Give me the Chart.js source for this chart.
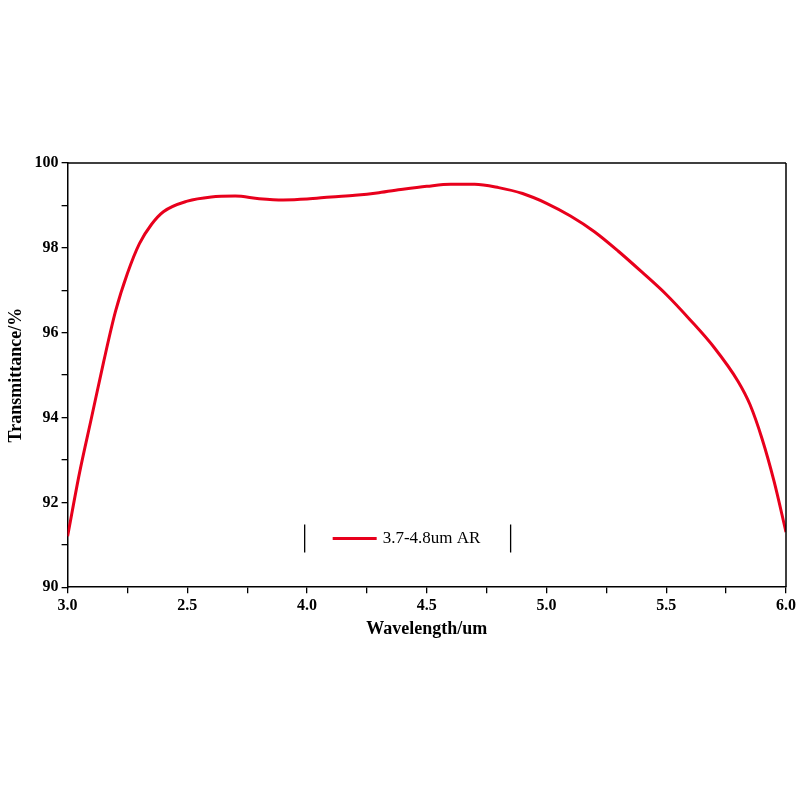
<!DOCTYPE html>
<html>
<head>
<meta charset="utf-8">
<script src="https://cdn.jsdelivr.net/npm/chart.js@4"></script>
<style>
  html, body { margin: 0; background: #fff; }
  #wrap { position: absolute; left: 0; top: 0; width: 800px; height: 800px; }
</style>
</head>
<body>
<div id="wrap"><canvas id="spectrum"></canvas></div>
<script>
const wavelengths = [3.0, 3.05, 3.1, 3.15, 3.2, 3.25, 3.3, 3.35, 3.4, 3.5, 3.6, 3.7, 3.8, 3.9, 4.0, 4.1, 4.2, 4.3, 4.4, 4.5, 4.6, 4.7, 4.8, 4.9, 5.0, 5.1, 5.2, 5.3, 5.4, 5.5, 5.6, 5.7, 5.8, 5.85, 5.9, 5.95, 6.0];
const transmittance = [91.2, 92.7, 94.0, 95.3, 96.5, 97.4, 98.1, 98.55, 98.85, 99.1, 99.2, 99.22, 99.16, 99.13, 99.15, 99.2, 99.24, 99.3, 99.38, 99.45, 99.5, 99.5, 99.42, 99.28, 99.05, 98.75, 98.38, 97.92, 97.42, 96.9, 96.3, 95.65, 94.85, 94.3, 93.5, 92.5, 91.3];
const xTickLabels = ["3.0", "2.5", "4.0", "4.5", "5.0", "5.5", "6.0"];
const seriesLabel = "3.7-4.8um AR";

const font = "'Liberation Serif', 'DejaVu Serif', serif";

// legend drawn inside the plot, with the odd bars on either side
const boxLegend = {
  id: "boxLegend",
  afterDraw(chart) {
    const { ctx, scales: { x, y } } = chart;
    const cy = y.getPixelForValue(91.1);
    const left = x.getPixelForValue(3.99);
    const right = x.getPixelForValue(4.85);
    ctx.save();
    ctx.strokeStyle = "#000";
    ctx.lineWidth = 1.3;
    ctx.beginPath();
    ctx.moveTo(left, cy - 16); ctx.lineTo(left, cy + 12);
    ctx.moveTo(right, cy - 16); ctx.lineTo(right, cy + 12);
    ctx.stroke();
    ctx.strokeStyle = "#e8001c";
    ctx.lineWidth = 3;
    ctx.beginPath();
    ctx.moveTo(left + 28, cy - 2); ctx.lineTo(left + 72, cy - 2);
    ctx.stroke();
    ctx.fillStyle = "#000";
    ctx.font = "17px " + font;
    ctx.textBaseline = "middle";
    ctx.fillText(seriesLabel, left + 78, cy - 2);
    ctx.restore();
  }
};

const frame = {
  id: "frame",
  afterDraw(chart) {
    const { ctx, chartArea: a } = chart;
    ctx.save();
    ctx.strokeStyle = "#000";
    ctx.lineWidth = 1.5;
    ctx.beginPath();
    ctx.moveTo(a.left, a.top); ctx.lineTo(a.right, a.top);
    ctx.moveTo(a.right, a.top); ctx.lineTo(a.right, a.bottom);
    ctx.stroke();
    ctx.restore();
  }
};

new Chart(document.getElementById("spectrum"), {
  type: "line",
  data: {
    datasets: [{
      label: seriesLabel,
      data: wavelengths.map((w, i) => ({ x: w, y: transmittance[i] })),
      borderColor: "#e8001c",
      borderWidth: 3,
      pointRadius: 0,
      tension: 0.4,
      cubicInterpolationMode: "monotone"
    }]
  },
  options: {
    responsive: true,
    maintainAspectRatio: false,
    animation: false,
    layout: { padding: { left: 2, right: 14, top: 163, bottom: 160 } },
    plugins: { legend: { display: false }, tooltip: { enabled: false } },
    scales: {
      x: {
        type: "linear", min: 3, max: 6,
        grid: { display: true, drawOnChartArea: false, drawTicks: true, tickLength: 6, color: "#000", lineWidth: 1.3 },
        border: { color: "#000", width: 1.5 },
        ticks: {
          stepSize: 0.25, color: "#000", font: { family: font, size: 16, weight: "bold" },
          autoSkip: false, maxRotation: 0,
          callback: v => Number.isInteger(v * 2) ? xTickLabels[Math.round((v - 3) * 2)] : ""
        },
        title: { display: true, text: "Wavelength/um", color: "#000", font: { family: font, size: 18, weight: "bold" }, padding: 0 }
      },
      y: {
        min: 90, max: 100,
        grid: { display: true, drawOnChartArea: false, drawTicks: true, tickLength: 6, color: "#000", lineWidth: 1.3 },
        border: { color: "#000", width: 1.5 },
        ticks: {
          stepSize: 1, color: "#000", font: { family: font, size: 16, weight: "bold" },
          callback: v => v % 2 === 0 ? String(v) : ""
        },
        title: { display: true, text: "Transmittance/%", color: "#000", font: { family: font, size: 18, weight: "bold" }, padding: 4 }
      }
    }
  },
  plugins: [boxLegend, frame]
});
</script>
</body>
</html>
